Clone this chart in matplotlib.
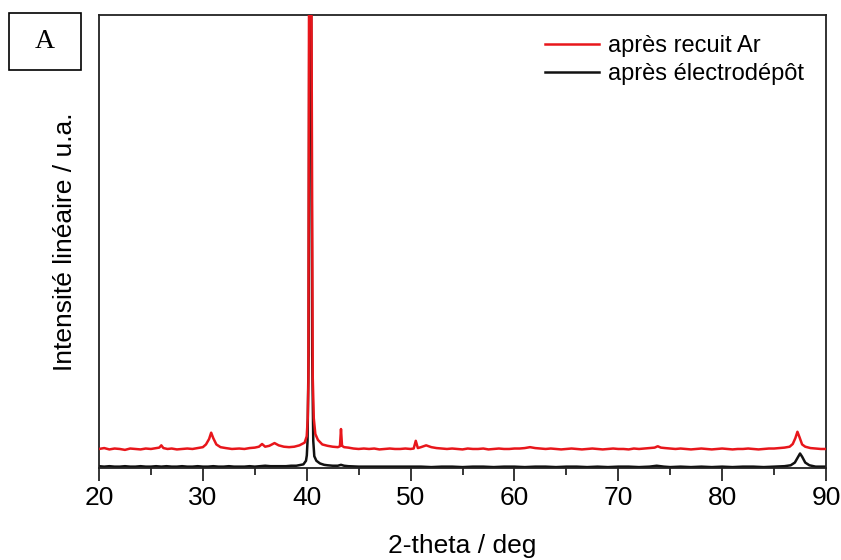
import matplotlib
matplotlib.use("Agg")
import matplotlib.pyplot as plt
from matplotlib.patches import Rectangle
from matplotlib.ticker import MultipleLocator

plt.rcParams['font.family'] = ['Liberation Sans', 'DejaVu Sans']

# XRD patterns (2-theta in deg, intensity in arbitrary units)
red_2theta = [20.0, 20.5, 21.0, 21.5, 22.0, 22.5, 23.0, 23.5, 24.0, 24.5, 25.0, 25.5,
              25.8, 26.0, 26.2, 26.6, 27.0, 27.5, 28.0, 28.5, 29.0, 29.5, 30.0, 30.3,
              30.6, 30.8, 31.0, 31.3, 31.7, 32.2, 32.8, 33.5, 34.0, 34.5, 35.0, 35.4,
              35.7, 36.0, 36.4, 36.9, 37.3, 37.8, 38.3, 38.8, 39.3, 39.8, 40.0, 40.1,
              40.16, 40.22, 40.29, 40.38, 40.46, 40.58, 40.68, 40.83, 41.08, 41.5, 42.0, 42.5,
              43.0, 43.2, 43.3, 43.4, 43.6, 44.0, 44.5, 45.0, 45.5, 46.0, 46.5, 47.0,
              47.5, 48.0, 48.5, 49.0, 49.5, 50.0, 50.3, 50.5, 50.7, 51.0, 51.5, 52.0,
              52.5, 53.0, 53.5, 54.0, 54.5, 55.0, 55.5, 56.0, 56.5, 57.0, 57.5, 58.0,
              58.5, 59.0, 59.5, 60.0, 60.5, 61.0, 61.5, 62.0, 62.5, 63.0, 63.5, 64.0,
              64.5, 65.0, 65.5, 66.0, 66.5, 67.0, 67.5, 68.0, 68.5, 69.0, 69.5, 70.0,
              70.5, 71.0, 71.5, 72.0, 72.5, 73.0, 73.5, 73.8, 74.1, 74.5, 75.0, 75.5,
              76.0, 76.5, 77.0, 77.5, 78.0, 78.5, 79.0, 79.5, 80.0, 80.5, 81.0, 81.5,
              82.0, 82.5, 83.0, 83.5, 84.0, 84.5, 85.0, 85.5, 86.0, 86.5, 86.8, 87.05,
              87.25, 87.45, 87.7, 88.0, 88.5, 89.0, 89.5, 90.0]
red_counts = [4.2, 4.4, 4.1, 4.3, 4.2, 4.0, 4.3, 4.2, 4.1, 4.3, 4.2, 4.4,
              4.5, 5.0, 4.4, 4.2, 4.3, 4.1, 4.2, 4.3, 4.2, 4.4, 4.6, 5.2,
              6.4, 7.8, 6.6, 5.2, 4.6, 4.4, 4.2, 4.3, 4.2, 4.4, 4.5, 4.7,
              5.3, 4.7, 4.9, 5.5, 5.0, 4.7, 4.6, 4.7, 5.0, 5.6, 7.0, 11.0,
              19.0, 100.0, 300.0, 400.0, 100.0, 20.0, 11.0, 7.5, 6.2, 5.2, 4.9, 4.7,
              4.6, 4.8, 8.6, 4.9, 4.6, 4.5, 4.3, 4.2, 4.3, 4.2, 4.3, 4.1,
              4.2, 4.3, 4.2, 4.2, 4.3, 4.2, 4.3, 6.0, 4.4, 4.6, 5.0, 4.6,
              4.4, 4.3, 4.2, 4.3, 4.2, 4.1, 4.3, 4.2, 4.2, 4.3, 4.1, 4.2,
              4.3, 4.2, 4.2, 4.3, 4.3, 4.4, 4.6, 4.4, 4.3, 4.2, 4.3, 4.2,
              4.1, 4.2, 4.3, 4.2, 4.1, 4.2, 4.3, 4.2, 4.1, 4.2, 4.3, 4.2,
              4.2, 4.1, 4.3, 4.2, 4.3, 4.4, 4.5, 4.8, 4.5, 4.4, 4.3, 4.2,
              4.3, 4.2, 4.1, 4.2, 4.3, 4.2, 4.1, 4.2, 4.3, 4.2, 4.1, 4.2,
              4.2, 4.3, 4.2, 4.1, 4.2, 4.3, 4.3, 4.4, 4.5, 4.7, 5.3, 6.6,
              8.0, 6.8, 5.2, 4.7, 4.4, 4.3, 4.2, 4.2]

black_2theta = [20.0, 20.5, 21.0, 21.5, 22.0, 22.5, 23.0, 23.5, 24.0, 24.5, 25.0, 25.5,
                26.0, 26.5, 27.0, 27.5, 28.0, 28.5, 29.0, 29.5, 30.0, 30.5, 31.0, 31.5,
                32.0, 32.5, 33.0, 33.5, 34.0, 34.5, 35.0, 35.5, 36.0, 36.5, 37.0, 37.5,
                38.0, 38.5, 39.0, 39.68, 39.93, 40.01, 40.08, 40.18, 40.25, 40.33, 40.43, 40.53,
                40.63, 40.73, 40.93, 41.28, 41.68, 42.0, 42.5, 43.0, 43.3, 43.6, 44.0, 45.0,
                46.0, 47.0, 48.0, 49.0, 50.0, 51.0, 52.0, 53.0, 54.0, 55.0, 56.0, 57.0,
                58.0, 59.0, 60.0, 61.0, 62.0, 63.0, 64.0, 65.0, 66.0, 67.0, 68.0, 69.0,
                70.0, 71.0, 72.0, 73.0, 73.7, 74.4, 75.0, 76.0, 77.0, 78.0, 79.0, 80.0,
                81.0, 82.0, 83.0, 84.0, 85.0, 86.0, 86.6, 87.0, 87.3, 87.5, 87.7, 88.0,
                88.4, 89.0, 89.5, 90.0]
black_counts = [0.4, 0.3, 0.4, 0.3, 0.3, 0.4, 0.3, 0.3, 0.4, 0.3, 0.3, 0.4,
                0.3, 0.4, 0.3, 0.3, 0.4, 0.3, 0.3, 0.4, 0.3, 0.3, 0.4, 0.3,
                0.3, 0.4, 0.3, 0.3, 0.3, 0.4, 0.3, 0.4, 0.5, 0.4, 0.4, 0.4,
                0.4, 0.5, 0.5, 0.8, 1.6, 2.8, 6.0, 25.0, 100.0, 300.0, 100.0, 25.0,
                6.0, 2.6, 1.6, 1.0, 0.7, 0.6, 0.5, 0.5, 0.7, 0.5, 0.4, 0.3,
                0.3, 0.3, 0.3, 0.3, 0.3, 0.3, 0.2, 0.3, 0.3, 0.2, 0.3, 0.3,
                0.2, 0.3, 0.3, 0.2, 0.3, 0.3, 0.2, 0.3, 0.3, 0.2, 0.3, 0.2,
                0.3, 0.3, 0.2, 0.3, 0.5, 0.3, 0.2, 0.3, 0.2, 0.3, 0.2, 0.3,
                0.2, 0.3, 0.3, 0.2, 0.3, 0.4, 0.6, 1.2, 2.4, 3.2, 2.5, 1.2,
                0.6, 0.3, 0.3, 0.3]

red_label = "après recuit Ar"
black_label = "après électrodépôt"

fig = plt.figure(figsize=(8.41, 5.6), dpi=100)
ax = fig.add_axes([99/841, 1 - 468/560, 727/841, 453/560])

ax.plot(red_2theta, red_counts, color='#e8161b', lw=1.8, label=red_label, zorder=3)
ax.plot(black_2theta, black_counts, color='#111111', lw=1.8, label=black_label, zorder=2)

ax.set_xlim(20, 90)
ax.set_ylim(0, 100)
ax.xaxis.set_major_locator(MultipleLocator(10))
ax.xaxis.set_minor_locator(MultipleLocator(5))
ax.set_yticks([])
ax.tick_params(axis='x', which='major', direction='out', length=9, width=1.1,
               labelsize=19, pad=4)
ax.tick_params(axis='x', which='minor', direction='out', length=5, width=1.1)
for s in ax.spines.values():
    s.set_linewidth(1.3)
    s.set_color('#222222')

ax.set_xlabel("2-theta / deg", fontsize=19, labelpad=17)
ax.set_ylabel("Intensité linéaire / u.a.", fontsize=19, labelpad=16)

ax.legend(loc='upper left', bbox_to_anchor=(545/841, 1 - 35/560),
          bbox_transform=fig.transFigure, frameon=False, fontsize=17,
          handlelength=2.3, handletextpad=0.35, labelspacing=0.25,
          borderpad=0, borderaxespad=0)

# panel tag
fig.patches.append(Rectangle((9/841, 1 - 70/560), 72/841, 57/560,
                             transform=fig.transFigure, fill=False,
                             edgecolor='black', lw=1.2))
fig.text(45/841, 1 - 42/560, "A", family='Liberation Serif', fontsize=20,
         ha='center', va='center')

fig.savefig("out.png", dpi=100)
